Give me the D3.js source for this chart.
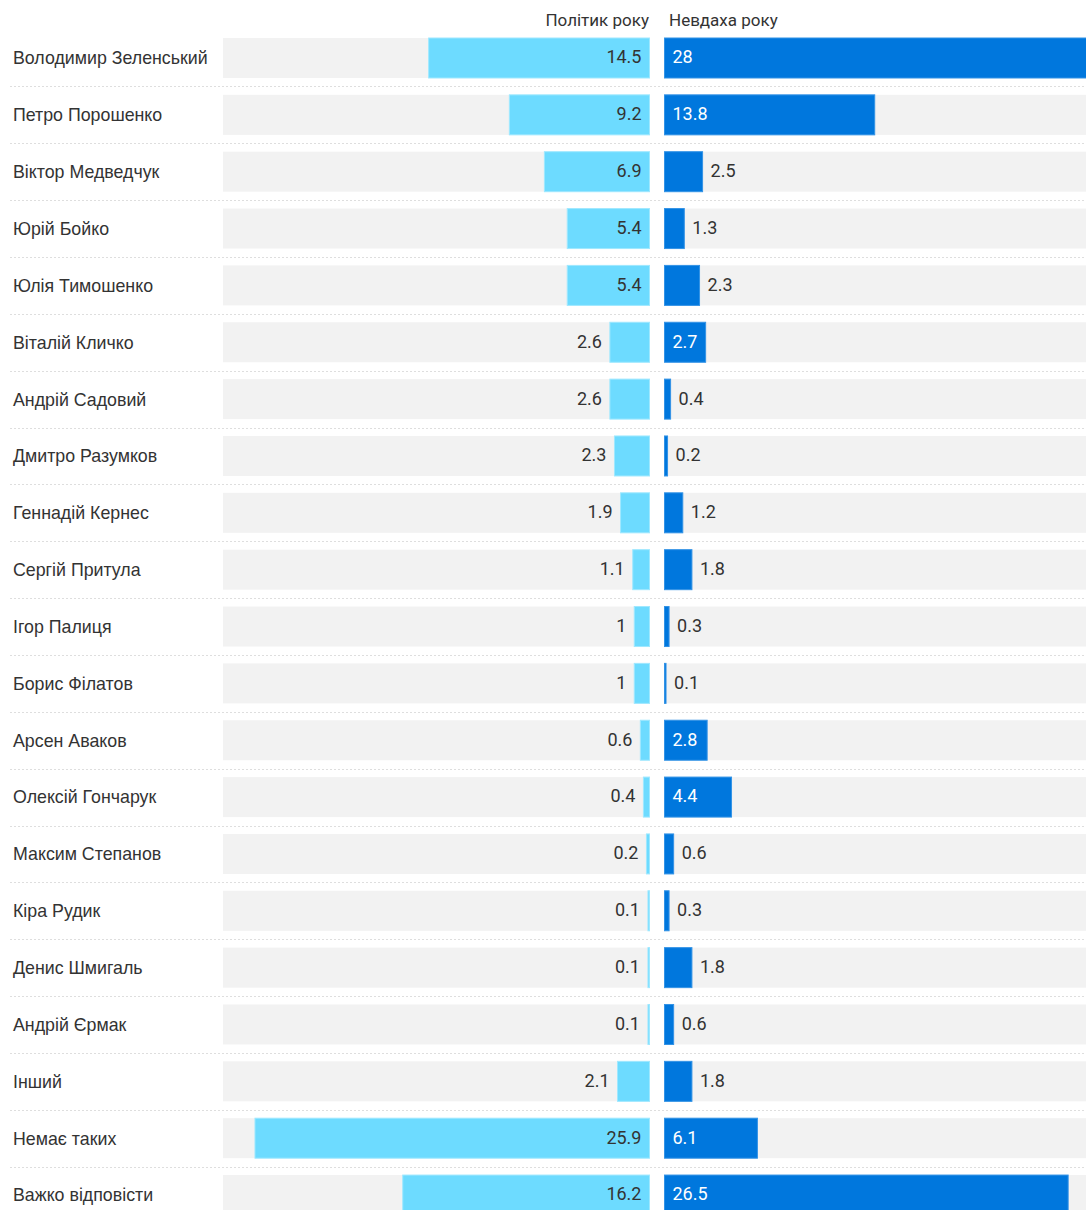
<!DOCTYPE html>
<html><head><meta charset="utf-8">
<script src="https://cdn.jsdelivr.net/npm/d3@7"></script>
<style>body{margin:0;background:#fff;font-family:Roboto,"Noto Sans",sans-serif;}</style>
</head><body>
<svg id="c" width="1086" height="1210"></svg>
<script>
const names = ["Володимир Зеленський","Петро Порошенко","Віктор Медведчук","Юрій Бойко","Юлія Тимошенко","Віталій Кличко","Андрій Садовий","Дмитро Разумков","Геннадій Кернес","Сергій Притула","Ігор Палиця","Борис Філатов","Арсен Аваков","Олексій Гончарук","Максим Степанов","Кіра Рудик","Денис Шмигаль","Андрій Єрмак","Інший","Немає таких","Важко відповісти"];
const politician = [14.5,9.2,6.9,5.4,5.4,2.6,2.6,2.3,1.9,1.1,1,1,0.6,0.4,0.2,0.1,0.1,0.1,2.1,25.9,16.2];
const loser = [28,13.8,2.5,1.3,2.3,2.7,0.4,0.2,1.2,1.8,0.3,0.1,2.8,4.4,0.6,0.3,1.8,0.6,1.8,6.1,26.5];
const headers = ["Політик року","Невдаха року"];

const svg = d3.select("#c");
const y = d3.scaleBand().domain(names).range([21.15, 1231.9]).paddingInner(0.2964).paddingOuter(0.2964);
const leftX = d3.scaleLinear().domain([0,28]).range([649.5, 223]);
const rightX = d3.scaleLinear().domain([0,28]).range([664.5, 1091]);
const bw = y.bandwidth();
const fs = 17, vfs = 18, nfs = 17.8;

names.forEach((n,i)=>{ if(i>0){
  const yy = y(n) - (y.step()-bw)/2;
  svg.append("line").attr("x1",10).attr("x2",1086).attr("y1",Math.round(yy)+0.5).attr("y2",Math.round(yy)+0.5)
    .attr("stroke","#dedede").attr("stroke-width",1).attr("stroke-dasharray","2,2");
}});

const g = svg.append("g");
g.selectAll(".bgl").data(names).join("rect").attr("x",leftX(28)).attr("width",leftX(0)-leftX(28))
  .attr("y",d=>y(d)).attr("height",bw).attr("fill","#f2f2f2");
g.selectAll(".bgr").data(names).join("rect").attr("x",rightX(0)).attr("width",rightX(28)-rightX(0))
  .attr("y",d=>y(d)).attr("height",bw).attr("fill","#f2f2f2");

g.selectAll(".lb").data(politician).join("rect")
  .attr("x",d=>leftX(d)).attr("width",d=>leftX(0)-leftX(d))
  .attr("y",(d,i)=>y(names[i])).attr("height",bw).attr("fill","#6ddbff")
  .attr("stroke","#9fe8ff").attr("stroke-width",1);
g.selectAll(".rb").data(loser).join("rect")
  .attr("x",rightX(0)).attr("width",d=>rightX(d)-rightX(0))
  .attr("y",(d,i)=>y(names[i])).attr("height",bw).attr("fill","#0077dd")
  .attr("stroke","#3393e6").attr("stroke-width",1);

const thr = 40;
g.selectAll(".lt").data(politician).join("text")
  .attr("x",d=>{const w=leftX(0)-leftX(d); return w>thr? leftX(0)-8 : leftX(d)-8;})
  .attr("y",(d,i)=>y(names[i])+bw/2).attr("dy","0.3em").attr("text-anchor","end")
  .attr("font-size",vfs).attr("fill","#333").text(d=>d);
g.selectAll(".rt").data(loser).join("text")
  .attr("x",d=>{const w=rightX(d)-rightX(0); return w>thr? rightX(0)+8 : rightX(d)+8;})
  .attr("y",(d,i)=>y(names[i])+bw/2).attr("dy","0.3em").attr("text-anchor","start")
  .attr("font-size",vfs).attr("fill",d=>(rightX(d)-rightX(0))>thr?"#fff":"#333").text(d=>d);
g.selectAll(".nm").data(names).join("text").attr("x",13).attr("y",d=>y(d)+bw/2).attr("dy","0.36em")
  .attr("font-family","'Liberation Sans',Arial,sans-serif")
  .attr("font-size",nfs).attr("fill","#333").text(d=>d);

svg.append("text").attr("x",649).attr("y",20).attr("dy","0.35em").attr("text-anchor","end")
  .attr("font-size",fs).attr("fill","#333").text(headers[0]);
svg.append("text").attr("x",669).attr("y",20).attr("dy","0.35em").attr("text-anchor","start")
  .attr("font-size",fs).attr("fill","#333").text(headers[1]);
</script>
</body></html>
